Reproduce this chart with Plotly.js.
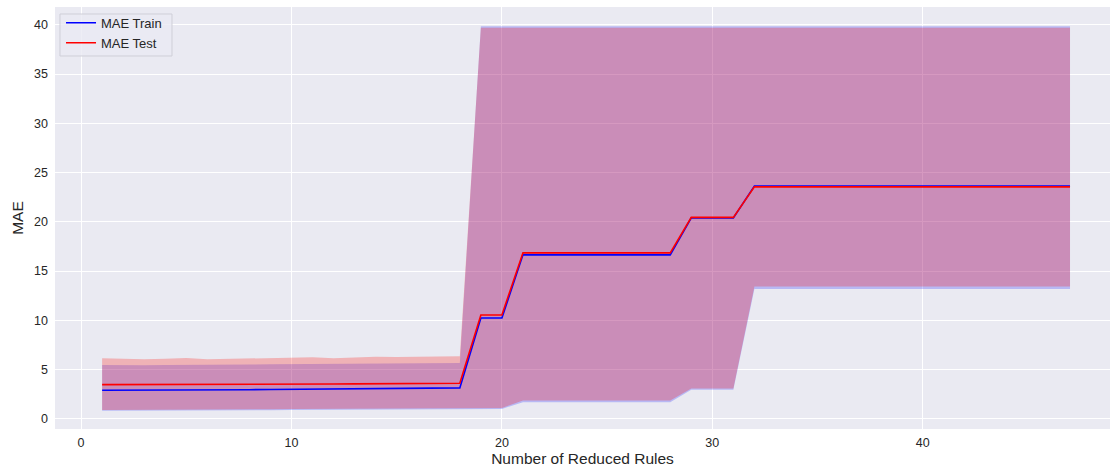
<!DOCTYPE html>
<html>
<head>
<meta charset="utf-8">
<script src="https://cdn.plot.ly/plotly-3.0.1.min.js"></script>
<style>
html,body{margin:0;padding:0;background:#ffffff;}
#chart{width:1110px;height:468px;}
</style>
</head>
<body>
<div id="chart"></div>
<script>
// Number of reduced rules
const rules = [1,2,3,4,5,6,7,8,9,10,11,12,13,14,15,16,17,18,19,20,21,22,23,24,25,26,27,28,29,30,31,32,33,34,35,36,37,38,39,40,41,42,43,44,45,46,47];

// MAE Train mean and band
const trainMean = [2.91,2.91,2.92,2.93,2.94,2.94,2.96,2.97,2.99,3.00,3.01,3.02,3.03,3.05,3.07,3.09,3.12,3.15,
  10.25,10.25,
  16.65,16.65,16.65,16.65,16.65,16.65,16.65,16.65,
  20.40,20.40,20.40,
  23.62,23.62,23.62,23.62,23.62,23.62,23.62,23.62,23.62,23.62,23.62,23.62,23.62,23.62,23.62,23.62];
const trainUpper = [5.48,5.45,5.44,5.47,5.50,5.46,5.49,5.52,5.54,5.56,5.58,5.55,5.60,5.63,5.62,5.64,5.66,5.68,
  39.85,39.85,39.85,39.85,39.85,39.85,39.85,39.85,39.85,39.85,39.85,39.85,39.85,39.85,39.85,39.85,39.85,39.85,
  39.85,39.85,39.85,39.85,39.85,39.85,39.85,39.85,39.85,39.85,39.85];
const trainLower = [0.82,0.82,0.83,0.84,0.85,0.86,0.87,0.88,0.89,0.90,0.91,0.92,0.93,0.94,0.95,0.96,0.97,0.98,
  1.00,1.02,
  1.70,1.70,1.70,1.70,1.70,1.70,1.70,1.70,
  2.95,2.95,2.95,
  13.18,13.18,13.18,13.18,13.18,13.18,13.18,13.18,13.18,13.18,13.18,13.18,13.18,13.18,13.18,13.18];

// MAE Test mean and band
const testMean = [3.48,3.48,3.49,3.50,3.51,3.50,3.51,3.52,3.53,3.54,3.55,3.54,3.56,3.57,3.58,3.59,3.60,3.62,
  10.55,10.55,
  16.85,16.85,16.85,16.85,16.85,16.85,16.85,16.85,
  20.45,20.45,20.45,
  23.55,23.55,23.55,23.55,23.55,23.55,23.55,23.55,23.55,23.55,23.55,23.55,23.55,23.55,23.55,23.55];
const testUpper = [6.16,6.10,6.06,6.12,6.18,6.06,6.10,6.15,6.20,6.22,6.25,6.15,6.25,6.30,6.28,6.30,6.33,6.35,
  39.70,39.70,39.70,39.70,39.70,39.70,39.70,39.70,39.70,39.70,39.70,39.70,39.70,39.70,39.70,39.70,39.70,39.70,
  39.70,39.70,39.70,39.70,39.70,39.70,39.70,39.70,39.70,39.70,39.70];
const testLower = [0.92,0.92,0.93,0.94,0.95,0.96,0.97,0.98,0.99,1.00,1.01,1.02,1.03,1.04,1.05,1.06,1.07,1.08,
  1.10,1.12,
  1.86,1.86,1.86,1.86,1.86,1.86,1.86,1.86,
  3.10,3.10,3.10,
  13.45,13.45,13.45,13.45,13.45,13.45,13.45,13.45,13.45,13.45,13.45,13.45,13.45,13.45,13.45,13.45];

const xTicks = [0,10,20,30,40];
const yTicks = [0,5,10,15,20,25,30,35,40];

const traces = [
  {x: rules, y: trainLower, mode:'lines', line:{width:0}, showlegend:false, hoverinfo:'skip'},
  {x: rules, y: trainUpper, mode:'lines', line:{width:0}, fill:'tonexty', fillcolor:'rgba(0,0,255,0.21)', showlegend:false, hoverinfo:'skip'},
  {x: rules, y: testLower, mode:'lines', line:{width:0}, showlegend:false, hoverinfo:'skip'},
  {x: rules, y: testUpper, mode:'lines', line:{width:0}, fill:'tonexty', fillcolor:'rgba(255,13,5,0.25)', showlegend:false, hoverinfo:'skip'},
  {x: rules, y: trainMean, mode:'lines', name:'MAE Train', line:{color:'#0000ff', width:1.6}},
  {x: rules, y: testMean, mode:'lines', name:'MAE Test', line:{color:'#ff0000', width:1.6}}
];

const layout = {
  width: 1110, height: 468,
  margin: {l:55, r:0, t:7, b:39, pad:0},
  paper_bgcolor: '#ffffff',
  plot_bgcolor: '#eaeaf2',
  font: {family: 'Liberation Sans, Arial, sans-serif', size: 12.5, color: '#262626'},
  showlegend: true,
  legend: {
    x: 0.0057, y: 0.998, xanchor:'left', yanchor:'top',
    traceorder: 'normal',
    itemwidth: 30,
    bgcolor: 'rgba(0,0,0,0)', borderwidth: 0,
    font: {size: 13, color:'#262626'}
  },
  shapes: [{
    type: 'rect', xref: 'paper', yref: 'paper',
    x0: 0.0047, x1: 0.1109, y0: 0.8839, y1: 0.9834,
    fillcolor: 'rgba(234,234,242,0.8)', line: {color: '#cfcfd8', width: 1},
    layer: 'above'
  }],
  xaxis: {
    range: [-1.24, 48.9],
    tickvals: xTicks, ticktext: xTicks.map(String),
    showgrid: true, gridcolor: '#ffffff', gridwidth: 1,
    zeroline: false, showline: false, ticks: '',
    ticklabelstandoff: 4,
    title: {text: 'Number of Reduced Rules', font:{size:15.5, color:'#262626'}, standoff: 4}
  },
  yaxis: {
    range: [-1.02, 41.8],
    tickvals: yTicks, ticktext: yTicks.map(String),
    showgrid: true, gridcolor: '#ffffff', gridwidth: 1,
    zeroline: false, showline: false, ticks: '',
    ticklabelstandoff: 6,
    title: {text: 'MAE', font:{size:15.5, color:'#262626'}, standoff: 6}
  }
};

Plotly.newPlot('chart', traces, layout, {displayModeBar:false, staticPlot:true});
</script>
</body>
</html>
